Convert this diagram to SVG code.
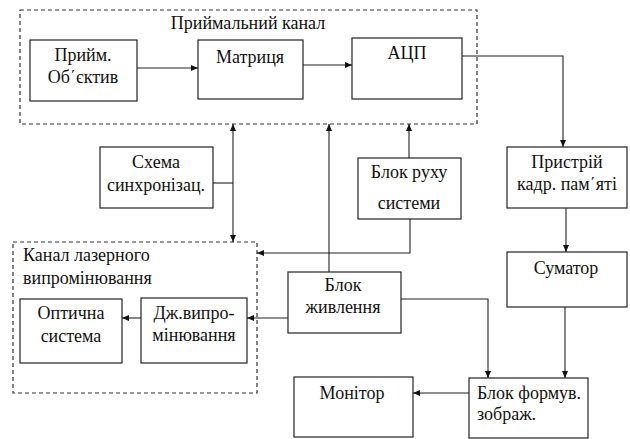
<svg xmlns="http://www.w3.org/2000/svg" width="630" height="439" viewBox="0 0 630 439">
<defs>
<marker id="ah" markerWidth="7" markerHeight="6" refX="7" refY="3" orient="auto" markerUnits="userSpaceOnUse">
<path d="M0,0 L7,3 L0,6 Z" fill="#111"/>
</marker>
<style>
.box{fill:#fff;stroke:#222;stroke-width:1.2}
.dash{fill:none;stroke:#333;stroke-width:1.2;stroke-dasharray:4,3}
.ln{fill:none;stroke:#222;stroke-width:1.1}
.ar{fill:none;stroke:#222;stroke-width:1.1;marker-end:url(#ah)}
.c{text-anchor:middle}
</style>
</defs>
<rect width="630" height="439" fill="#fff"/>
<g font-family="Liberation Serif, DejaVu Serif, serif" font-size="18" fill="#111">
<g id="receive-channel">
<rect class="dash" x="20" y="10" width="457" height="114"/>
<text class="c" x="248" y="29">Приймальний канал</text>
</g>
<g id="laser-channel">
<rect class="dash" x="13" y="242" width="244" height="151"/>
<text x="23" y="261">Канал лазерного</text>
<text x="23" y="284">випромінювання</text>
</g>
<g id="lens">
<rect class="box" x="30" y="40" width="107" height="61"/>
<text class="c" x="83" y="61">Прийм.</text>
<text class="c" x="83" y="83">Об΄єктив</text>
</g>
<g id="matrix">
<rect class="box" x="198" y="40" width="105" height="59"/>
<text class="c" x="250" y="63">Матриця</text>
</g>
<g id="adc">
<rect class="box" x="352" y="38" width="110" height="61"/>
<text class="c" x="407" y="59">АЦП</text>
</g>
<g id="sync">
<rect class="box" x="100" y="147" width="113" height="61"/>
<text class="c" x="156" y="168">Схема</text>
<text class="c" x="156" y="191">синхронізац.</text>
</g>
<g id="motion">
<rect class="box" x="358" y="158" width="103" height="61"/>
<text class="c" x="409" y="178">Блок руху</text>
<text class="c" x="409" y="209">системи</text>
</g>
<g id="memory">
<rect class="box" x="507" y="147" width="120" height="61"/>
<text class="c" x="567" y="168">Пристрій</text>
<text class="c" x="567" y="190">кадр. пам΄яті</text>
</g>
<g id="adder">
<rect class="box" x="507" y="252" width="120" height="55"/>
<text class="c" x="566" y="274">Суматор</text>
</g>
<g id="power">
<rect class="box" x="288" y="272" width="113" height="61"/>
<text class="c" x="343" y="291">Блок</text>
<text class="c" x="343" y="313">живлення</text>
</g>
<g id="optics">
<rect class="box" x="20" y="299" width="102" height="64"/>
<text class="c" x="71" y="319">Оптична</text>
<text class="c" x="71" y="342">система</text>
</g>
<g id="laser">
<rect class="box" x="141" y="298" width="106" height="65"/>
<text class="c" x="194" y="319">Дж.випро-</text>
<text class="c" x="194" y="341">мінювання</text>
</g>
<g id="monitor">
<rect class="box" x="294" y="377" width="119" height="60"/>
<text class="c" x="352" y="399">Монітор</text>
</g>
<g id="image-former">
<rect class="box" x="469" y="378" width="119" height="60"/>
<text x="477" y="399">Блок формув.</text>
<text x="477" y="420">зображ.</text>
</g>
</g>
<g id="connectors">
<line class="ar" x1="137" y1="68" x2="198" y2="68"/>
<line class="ar" x1="303" y1="65" x2="352" y2="65"/>
<polyline class="ar" points="462,56 563,56 563,147"/>
<line class="ar" x1="566" y1="208" x2="566" y2="252"/>
<line class="ar" x1="565" y1="307" x2="565" y2="378"/>
<line class="ar" x1="469" y1="393" x2="413" y2="393"/>
<polyline class="ar" points="401,299 488,299 488,378"/>
<line class="ln" x1="213" y1="183" x2="233" y2="183"/>
<line class="ar" x1="233" y1="183" x2="233" y2="124"/>
<line class="ar" x1="233" y1="183" x2="233" y2="242"/>
<line class="ar" x1="329" y1="272" x2="329" y2="124"/>
<line class="ar" x1="409" y1="158" x2="409" y2="124"/>
<polyline class="ar" points="410,219 410,253 257,253"/>
<line class="ar" x1="288" y1="318" x2="247" y2="318"/>
<line class="ar" x1="141" y1="318" x2="122" y2="318"/>
</g>
</svg>
